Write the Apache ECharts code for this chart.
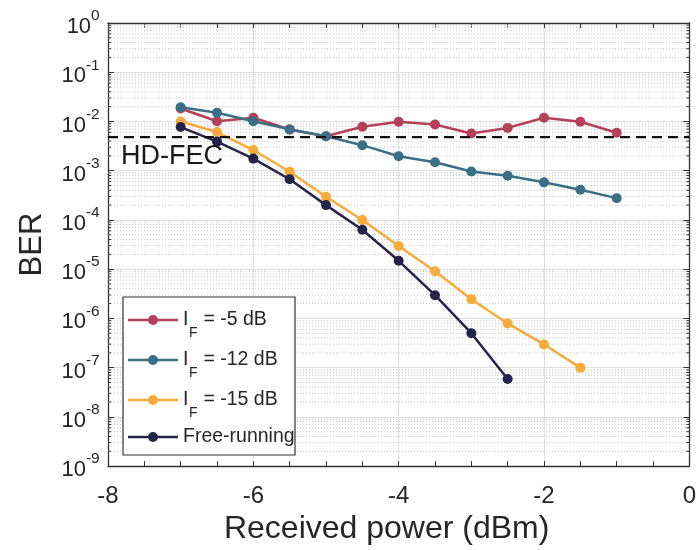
<!DOCTYPE html>
<html>
<head>
<meta charset="utf-8">
<script src="https://cdn.jsdelivr.net/npm/echarts@6/dist/echarts.min.js"></script>
<style>
  html, body { margin: 0; padding: 0; background: #fff; }
  #chart { width: 699px; height: 550px; }
</style>
</head>
<body>
<div id="chart"></div>
<script>
// Received power (dBm)
const xValues = [-7, -6.5, -6, -5.5, -5, -4.5, -4, -3.5, -3, -2.5, -2, -1.5, -1];
// BER per series
const berIF5  = [1.83e-2, 1.01e-2, 1.19e-2, 6.9e-3, 5.0e-3, 7.8e-3, 9.9e-3, 8.7e-3, 5.7e-3, 7.4e-3, 1.19e-2, 9.9e-3, 5.9e-3];
const berIF12 = [1.95e-2, 1.5e-2, 1.01e-2, 6.9e-3, 5.0e-3, 3.3e-3, 1.97e-3, 1.48e-3, 9.6e-4, 7.9e-4, 5.8e-4, 4.1e-4, 2.77e-4];
const berIF15 = [1.0e-2, 6.1e-3, 2.63e-3, 9.5e-4, 2.95e-4, 1.0e-4, 2.95e-5, 9.1e-6, 2.45e-6, 7.9e-7, 2.96e-7, 1.0e-7];
const berFree = [7.7e-3, 3.9e-3, 1.76e-3, 6.7e-4, 2.0e-4, 6.3e-5, 1.48e-5, 2.96e-6, 5.0e-7, 5.9e-8];
const seriesNames = ['I_F = -5 dB', 'I_F = -12 dB', 'I_F = -15 dB', 'Free-running'];
const xMin = -8, xMax = 0, xStep = 2;
const yMin = 1e-9, yMax = 1;
const hdFecThreshold = 4.8e-3;
const hdFecLabel = 'HD-FEC';
const xAxisName = 'Received power (dBm)';
const yAxisName = 'BER';

const colors = ['#b4405a', '#3a6f87', '#f8aa3a', '#24244a'];
const font = '"Liberation Sans", Arial, Helvetica, sans-serif';
const textColor = '#262626';

function pairs(arr) { return arr.map((v, i) => [xValues[i], v]); }

// minor log grid positions (2..9 x 10^n)
const minorVals = [];
for (let n = -9; n <= -1; n++) for (let k = 2; k <= 9; k++) minorVals.push(k * Math.pow(10, n));

const chart = echarts.init(document.getElementById('chart'), null, { renderer: 'canvas' });

function lineSeries(name, data, color) {
  return {
    name: name, type: 'line', data: pairs(data),
    symbol: 'circle', symbolSize: 10,
    itemStyle: { color: color },
    lineStyle: { color: color, width: 2.5 },
    z: 5
  };
}

const series = [
  {
    type: 'custom', silent: true, z: 1,
    coordinateSystem: 'cartesian2d',
    dimensions: ['v'], encode: { y: 0 },
    data: minorVals.map(v => [v]),
    renderItem: function (params, api) {
      const cs = params.coordSys;
      const y = api.coord([xMin, api.value(0)])[1];
      return {
        type: 'group',
        children: [
          { type: 'line', shape: { x1: cs.x, y1: y, x2: cs.x + cs.width, y2: y },
            style: { stroke: '#c4c4c4', lineWidth: 1, lineDash: [1, 2] } },
          { type: 'line', shape: { x1: cs.x, y1: y, x2: cs.x + 3, y2: y },
            style: { stroke: '#333', lineWidth: 1 } },
          { type: 'line', shape: { x1: cs.x + cs.width - 3, y1: y, x2: cs.x + cs.width, y2: y },
            style: { stroke: '#333', lineWidth: 1 } }
        ]
      };
    }
  },
  {
    name: hdFecLabel, type: 'line', silent: true, z: 6,
    data: [[xMin, hdFecThreshold], [xMax, hdFecThreshold]],
    symbol: 'none',
    lineStyle: { color: '#111', width: 2.2, type: [10, 6] }
  },
  lineSeries(seriesNames[0], berIF5, colors[0]),
  lineSeries(seriesNames[1], berIF12, colors[1]),
  lineSeries(seriesNames[2], berIF15, colors[2]),
  lineSeries(seriesNames[3], berFree, colors[3])
];

const axisLineStyle = { color: '#333', width: 1.3 };

const option = {
  animation: false,
  backgroundColor: '#fff',
  grid: { left: 108, right: 8, top: 23, bottom: 82 },
  xAxis: [
    {
      type: 'value', min: xMin, max: xMax, interval: xStep, position: 'bottom',
      name: xAxisName, nameLocation: 'middle', nameGap: 46,
      nameTextStyle: { fontSize: 32, fontFamily: font, color: textColor, padding: [0, 24, 0, 0] },
      axisLine: { show: true, onZero: false, lineStyle: axisLineStyle },
      axisTick: { inside: true, length: 5, lineStyle: { color: '#333' } },
      minorTick: { show: true, splitNumber: 4, length: 5, lineStyle: { color: '#333' } },
      axisLabel: { fontSize: 24, fontFamily: font, color: textColor, margin: 18 },
      splitLine: { show: true, lineStyle: { color: '#dedede', width: 1 } }
    },
    {
      type: 'value', min: xMin, max: xMax, interval: xStep, position: 'top',
      axisLine: { show: true, onZero: false, lineStyle: axisLineStyle },
      axisTick: { inside: true, length: 5, lineStyle: { color: '#333' } },
      minorTick: { show: true, splitNumber: 4, length: 5, lineStyle: { color: '#333' } },
      axisLabel: { show: false },
      splitLine: { show: false }
    }
  ],
  yAxis: [
    {
      type: 'log', logBase: 10, min: yMin, max: yMax, position: 'left',
      name: yAxisName, nameLocation: 'middle', nameGap: 60,
      nameTextStyle: { fontSize: 31, fontFamily: font, color: textColor },
      axisLine: { show: true, onZero: false, lineStyle: axisLineStyle },
      axisTick: { inside: true, length: 6, lineStyle: { color: '#333' } },
      axisLabel: {
        margin: 8,
        formatter: function (v) {
          const e = Math.round(Math.log10(v));
          return '{b|10}{s|' + e + '}{dm| }';
        },
        rich: {
          b: { fontSize: 22, lineHeight: 22, verticalAlign: 'bottom', fontFamily: font, color: textColor },
          s: { fontSize: 15.5, lineHeight: 15, verticalAlign: 'top', fontFamily: font, color: textColor },
          dm: { fontSize: 1, lineHeight: 30, verticalAlign: 'middle' }
        }
      },
      splitLine: { show: true, lineStyle: { color: '#dedede', width: 1 } }
    },
    {
      type: 'log', logBase: 10, min: yMin, max: yMax, position: 'right',
      axisLine: { show: true, onZero: false, lineStyle: axisLineStyle },
      axisTick: { inside: true, length: 6, lineStyle: { color: '#333' } },
      axisLabel: { show: false },
      splitLine: { show: false }
    }
  ],
  series: series
};

chart.setOption(option);

// text measurement helper
const mctx = document.createElement('canvas').getContext('2d');
function textW(str, size) { mctx.font = size + 'px ' + font; return mctx.measureText(str).width; }

// Legend box (drawn as graphic so the subscript can be placed like the original)
const LZ = 100;
const lg = { x: 123, y: 297, w: 172, h: 158, rows: [320, 360, 400, 437] };
const legendEls = [{
  type: 'rect', silent: true, z: LZ,
  shape: { x: lg.x, y: lg.y, width: lg.w, height: lg.h },
  style: { fill: '#fff', stroke: '#333', lineWidth: 1.2 }
}];
seriesNames.forEach(function (name, i) {
  const cy = lg.rows[i];
  legendEls.push({ type: 'line', silent: true, z: LZ + 1, shape: { x1: lg.x + 5, y1: cy, x2: lg.x + 55, y2: cy },
    style: { stroke: colors[i], lineWidth: 2.5 } });
  legendEls.push({ type: 'circle', silent: true, z: LZ + 2, shape: { cx: lg.x + 30, cy: cy, r: 5 },
    style: { fill: colors[i] } });
  const tx = lg.x + 60;
  const ts = { fontSize: 19.5, fontFamily: font, fill: textColor, textVerticalAlign: 'middle' };
  if (name.indexOf('I_F') === 0) {
    const wI = textW('I', 19.5);
    const wF = textW('F', 14);
    legendEls.push({ type: 'text', silent: true, z: LZ + 1, x: tx, y: cy,
      style: Object.assign({ text: 'I' }, ts) });
    legendEls.push({ type: 'text', silent: true, z: LZ + 1, x: tx + wI + 0.5, y: cy + 13,
      style: { text: 'F', fontSize: 14, fontFamily: font, fill: textColor, textVerticalAlign: 'middle' } });
    legendEls.push({ type: 'text', silent: true, z: LZ + 1, x: tx + wI + wF + 1, y: cy,
      style: Object.assign({ text: name.slice(3) }, ts) });
  } else {
    legendEls.push({ type: 'text', silent: true, z: LZ + 1, x: tx, y: cy,
      style: Object.assign({ text: name }, ts) });
  }
});

// HD-FEC text label positioned from the threshold value through the axes
const p = chart.convertToPixel({ xAxisIndex: 0, yAxisIndex: 0 }, [xMin, hdFecThreshold]);
chart.setOption({
  graphic: [
    { type: 'text', silent: true, z: 10,
      x: p[0] + 13, y: p[1] + 6,
      style: { text: hdFecLabel, fontSize: 27, fontFamily: font, fill: '#1a1a1a', textVerticalAlign: 'top' } },
    { type: 'group', z: LZ, children: legendEls }
  ]
});
</script>
</body>
</html>
